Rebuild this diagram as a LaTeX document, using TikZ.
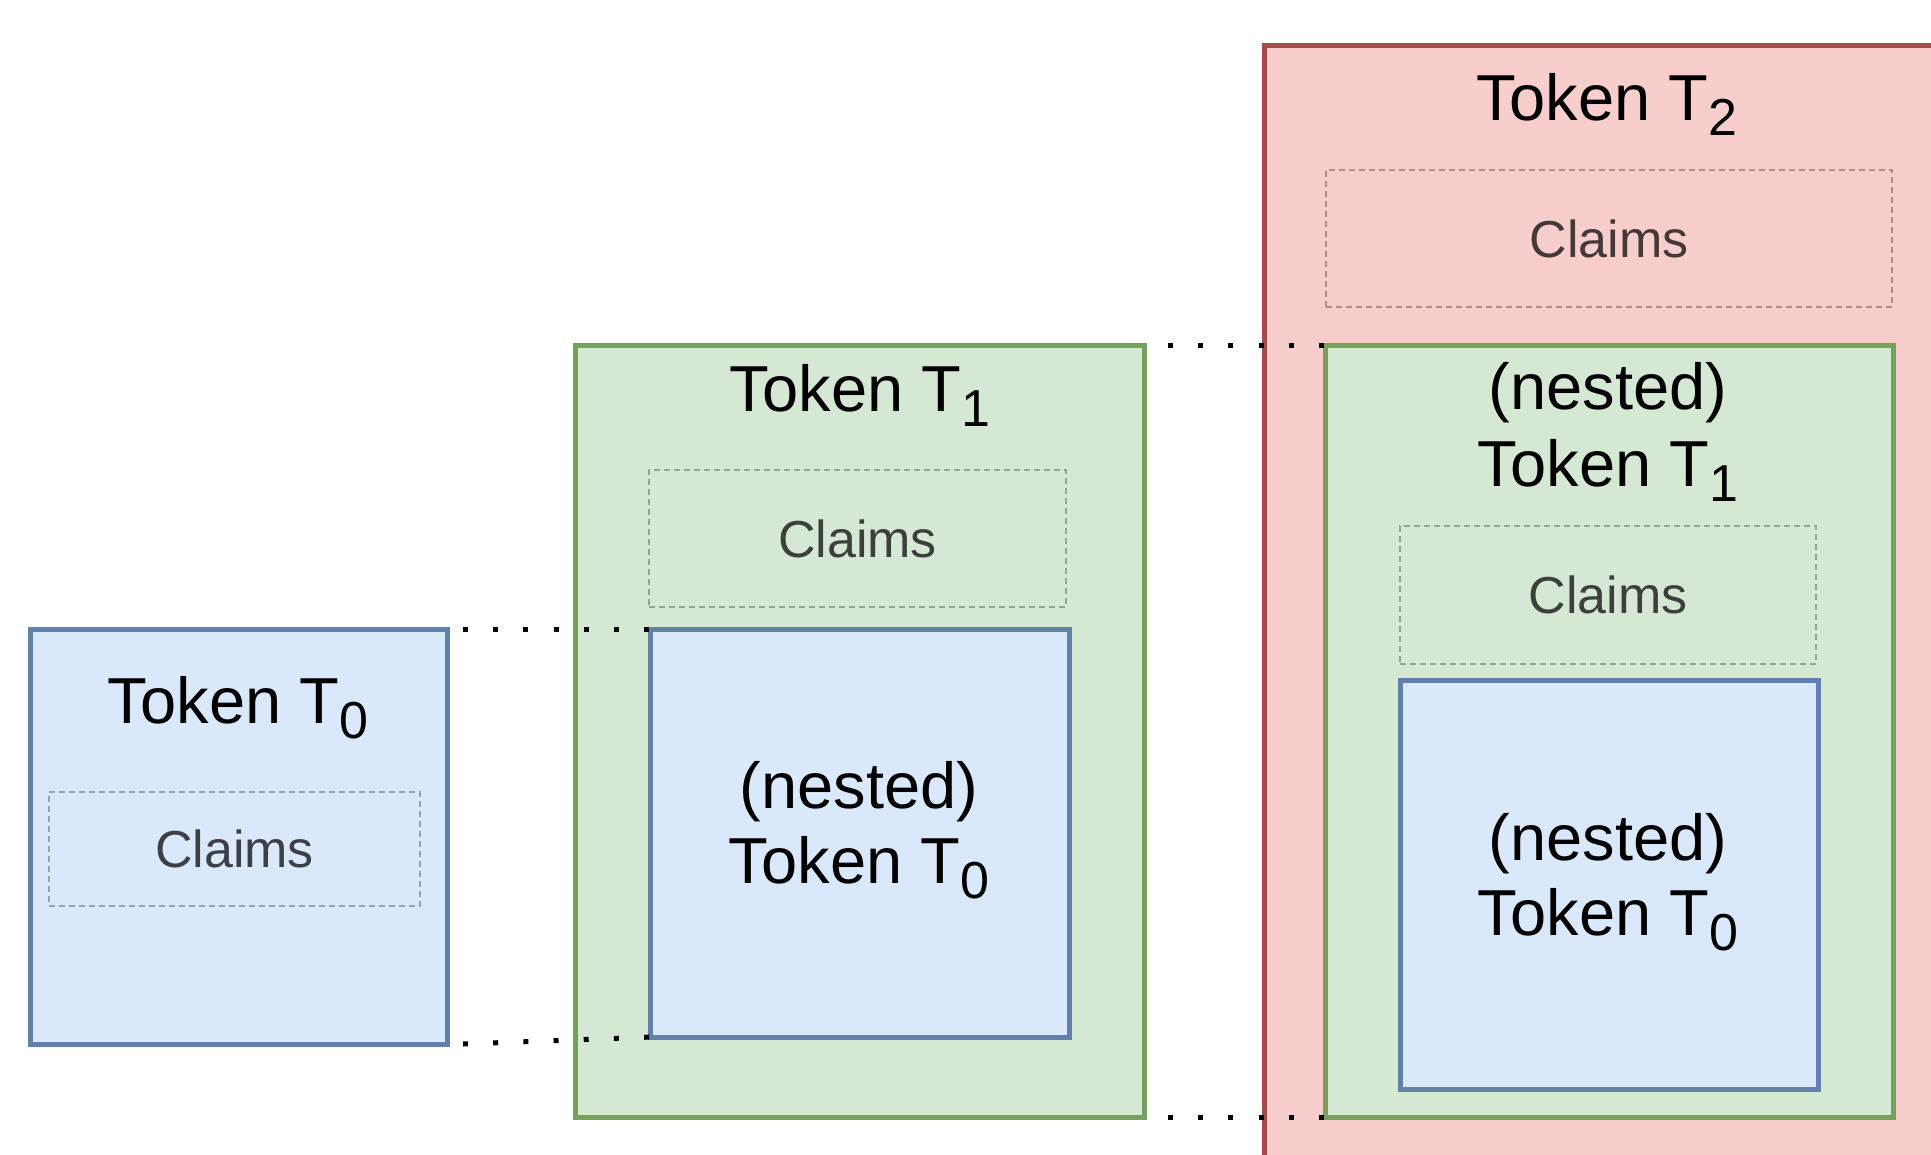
\documentclass[tikz,border=0pt]{standalone}
\usepackage{fontspec}
\setmainfont{Liberation Sans}
\definecolor{bfill}{HTML}{DAE8FC}
\definecolor{bdraw}{HTML}{6C8EBF}
\definecolor{gfill}{HTML}{D5E8D4}
\definecolor{gdraw}{HTML}{82B366}
\definecolor{rfill}{HTML}{F8CECC}
\definecolor{rdraw}{HTML}{B85450}
\newcommand{\tsub}[1]{\raisebox{-15pt}{\fontsize{52}{52}\selectfont #1}}
\tikzset{
  box/.style={rectangle, line width=5pt, inner sep=0pt, outer sep=0pt, anchor=north west},
  bluebox/.style={box, fill=bfill, draw=bdraw!90!black},
  greenbox/.style={box, fill=gfill, draw=gdraw!90!black},
  redbox/.style={box, fill=rfill, draw=rdraw!90!black},
  claimbox/.style={rectangle, dash pattern=on 6pt off 4pt, line width=1.5pt, draw=black, draw opacity=0.3,
    inner sep=0pt, outer sep=0pt, anchor=north west, font=\fontsize{52}{60}\selectfont, text=black, text opacity=0.72},
  title/.style={anchor=base, inner sep=0pt, font=\fontsize{65}{76}\selectfont, text=black},
  dots/.style={line width=5pt, dash pattern=on 5pt off 25.2pt}
}
\begin{document}
\begin{tikzpicture}[x=1pt,y=-1pt]
\useasboundingbox (0,0) rectangle (1931,1155);
\clip (0,0) rectangle (1931,1155);
% Token T0
\node[bluebox, minimum width=417pt, minimum height=415pt] (t0) at (30,629) {};
\node[title] (t0t) at (238,723) {Token T\tsub{0}};
\node[claimbox, minimum width=371pt, minimum height=114pt] (t0c) at (49,792) {Claims};
% Token T1
\node[greenbox, minimum width=569pt, minimum height=771pt] (t1) at (575,346) {};
\node[title] (t1t) at (860,412) {Token T\tsub{1}};
\node[claimbox, minimum width=417pt, minimum height=137pt] (t1c) at (649,470) {Claims};
\node[bluebox, minimum width=419pt, minimum height=408pt] (t1n0) at (650,629) {};
\node[title] (t1n0a) at (859,808) {(nested)};
\node[title] (t1n0b) at (859,883) {Token T\tsub{0}};
% Token T2
\node[redbox, minimum width=687pt, minimum height=1129pt] (t2) at (1264,46) {};
\node[title] (t2t) at (1607,121) {Token T\tsub{2}};
\node[claimbox, minimum width=566pt, minimum height=137pt] (t2c) at (1326,170) {Claims};
\node[greenbox, minimum width=568pt, minimum height=771pt] (t2n1) at (1325,346) {};
\node[title] (t2n1a) at (1608,410) {(nested)};
\node[title] (t2n1b) at (1608,486) {Token T\tsub{1}};
\node[claimbox, minimum width=416pt, minimum height=138pt] (t2n1c) at (1400,526) {Claims};
\node[bluebox, minimum width=418pt, minimum height=409pt] (t2n0) at (1400,680) {};
\node[title] (t2n0a) at (1608,860) {(nested)};
\node[title] (t2n0b) at (1608,935) {Token T\tsub{0}};
% dotted connectors
\draw[dots] ([xshift=16pt]t0.north east) -- ([xshift=2pt]t1n0.north west);
\draw[dots] ([xshift=16pt]t0.south east) -- ([xshift=2pt]t1n0.south west);
\draw[dots] ([xshift=24pt]t1.north east) -- ([xshift=2pt]t2n1.north west);
\draw[dots] ([xshift=24pt]t1.south east) -- ([xshift=2pt]t2n1.south west);
\end{tikzpicture}
\end{document}
